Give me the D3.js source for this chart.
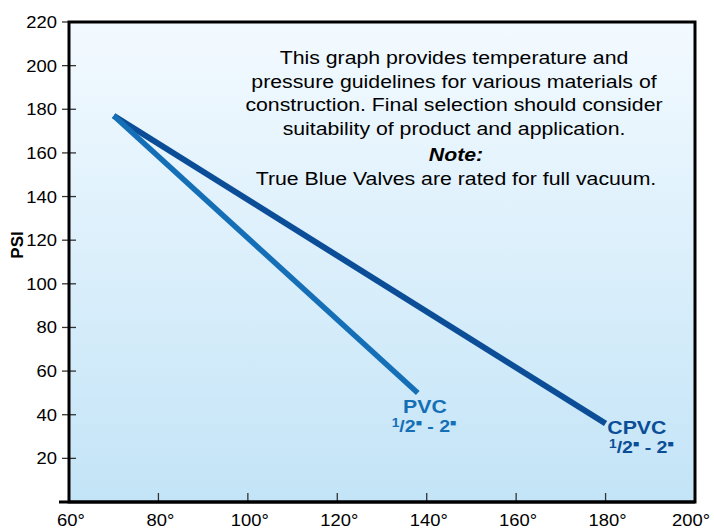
<!DOCTYPE html>
<html>
<head>
<meta charset="utf-8">
<script src="https://cdn.jsdelivr.net/npm/d3@7"></script>
<style>
  body { margin: 0; background: #fff; }
  text { font-family: "Liberation Sans", Arial, sans-serif; }
</style>
</head>
<body>
<script>
'use strict';

// values
var xTicks = [60, 80, 100, 120, 140, 160, 180, 200],
  yTicks = [20, 40, 60, 80, 100, 120, 140, 160, 180, 200, 220],
  pvc = [{x: 70, y: 177}, {x: 138, y: 50}],
  cpvc = [{x: 70, y: 177}, {x: 180, y: 36}],
  noteLines = [
    'This graph provides temperature and',
    'pressure guidelines for various materials of',
    'construction.  Final selection should consider',
    'suitability of product and application.'
  ];

var W = 714, H = 529,
  margin = {top: 22, right: 19, bottom: 27, left: 69},
  width = W - margin.left - margin.right,
  height = H - margin.top - margin.bottom,
  stretch = 1.15; // the original type is set a bit wide

var x = d3.scaleLinear().domain([60, 200]).range([0, width]),
  y = d3.scaleLinear().domain([0, 220]).range([height, 0]);

var svg = d3.select('body').append('svg')
  .attr('width', W)
  .attr('height', H);

var grad = svg.append('defs').append('linearGradient')
  .attr('id', 'bg')
  .attr('x1', 0).attr('y1', 0).attr('x2', 0).attr('y2', 1);
grad.append('stop').attr('offset', '0%').attr('stop-color', '#f3faff');
grad.append('stop').attr('offset', '100%').attr('stop-color', '#c3e4f7');

var g = svg.append('g')
  .attr('transform', 'translate(' + margin.left + ',' + margin.top + ')');

// text placed at px,py and widened horizontally
function wideText(parent, px, py, anchor, size) {
  return parent.append('text')
    .attr('transform', 'translate(' + px + ',' + py + ') scale(' + stretch + ',1)')
    .attr('text-anchor', anchor)
    .attr('font-size', size);
}

// plot background
g.append('rect')
  .attr('width', width)
  .attr('height', height)
  .attr('fill', 'url(#bg)');

// y ticks (crossing the axis)
g.selectAll('.ytick')
  .data(yTicks).enter()
  .append('line')
    .attr('x1', -7)
    .attr('x2', function(d) { return d == 220 ? 0 : 7; })
    .attr('y1', function(d) { return y(d); })
    .attr('y2', function(d) { return y(d); })
    .attr('stroke', '#333')
    .attr('stroke-width', 1.3);

yTicks.forEach(function(d) {
  wideText(g, -12, y(d) + 6, 'end', 16).text(d);
});

// x ticks (pointing up, inside)
g.selectAll('.xtick')
  .data(xTicks.slice(1, -1)).enter()
  .append('line')
    .attr('x1', function(d) { return x(d); })
    .attr('x2', function(d) { return x(d); })
    .attr('y1', height)
    .attr('y2', height - 9)
    .attr('stroke', '#333')
    .attr('stroke-width', 1.3);

xTicks.forEach(function(d) {
  // last label is pulled in so it stays on the page
  var off = d == 200 ? -4 : 2;
  wideText(g, x(d) + off, height + 24, 'middle', 16).text(d + '\u00b0');
});

// frame
g.append('rect')
  .attr('width', width)
  .attr('height', height)
  .attr('fill', 'none')
  .attr('stroke', '#000')
  .attr('stroke-width', 3);

g.append('line')
  .attr('x1', -10).attr('x2', width)
  .attr('y1', height).attr('y2', height)
  .attr('stroke', '#000').attr('stroke-width', 3);

// lines
var line = d3.line()
  .x(function(d) { return x(d.x); })
  .y(function(d) { return y(d.y); });

g.append('path')
  .datum(cpvc)
  .attr('d', line)
  .attr('fill', 'none')
  .attr('stroke', '#0b4e97')
  .attr('stroke-width', 6);

g.append('path')
  .datum(pvc)
  .attr('d', line)
  .attr('fill', 'none')
  .attr('stroke', '#156fb6')
  .attr('stroke-width', 5.5);

// line labels
function nameLabel(name, dx, dy, color) {
  wideText(g, x(dx), y(dy), 'middle', 18.5)
    .attr('font-weight', 'bold')
    .attr('fill', color)
    .text(name);
}

function sizeLabel(dx, dy, color) {
  var t = wideText(g, x(dx), y(dy), 'middle', 17)
    .attr('font-weight', 'bold')
    .attr('fill', color);
  t.append('tspan').attr('font-size', 12).attr('dy', -5).text('1');
  t.append('tspan').attr('dy', 5).text('/2');
  t.append('tspan').attr('font-size', 9).attr('dy', -6).text('\u25a0');
  t.append('tspan').attr('dy', 6).text(' - 2');
  t.append('tspan').attr('font-size', 9).attr('dy', -6).text('\u25a0');
}

nameLabel('PVC', 139.6, 40.8, '#156fb6');
sizeLabel(139.4, 32, '#156fb6');
nameLabel('CPVC', 187, 31, '#0b4e97');
sizeLabel(188, 22.5, '#0b4e97');

// annotation text
var cx = x(146.1);
noteLines.forEach(function(d, i) {
  wideText(g, cx, 42 + i * 23.5, 'middle', 18.5).text(d);
});

wideText(g, cx + 2, 139, 'middle', 18.5)
  .attr('font-weight', 'bold')
  .attr('font-style', 'italic')
  .text('Note:');

wideText(g, cx + 2, 163, 'middle', 18.5)
  .text('True Blue Valves are rated for full vacuum.');

// y axis title
svg.append('text')
  .attr('transform', 'translate(23,245) rotate(-90)')
  .attr('text-anchor', 'middle')
  .attr('font-size', 17)
  .attr('font-weight', 'bold')
  .text('PSI');
</script>
</body>
</html>
